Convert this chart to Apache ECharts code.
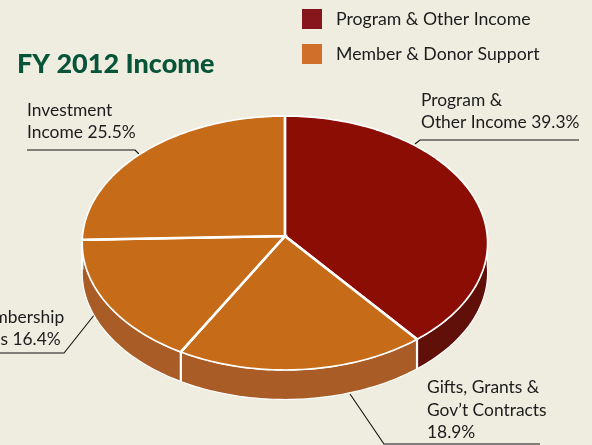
<!DOCTYPE html>
<html>
<head>
<meta charset="utf-8">
<style>html,body{margin:0;padding:0;background:#EFEDE0}#c{width:592px;height:445px}</style>
<script src="https://cdn.jsdelivr.net/npm/echarts@6/dist/echarts.min.js"></script>
</head>
<body>
<div id="c"></div>
<script>
const titleText = 'FY 2012 Income';
const legendNames = ['Program & Other Income', 'Member & Donor Support'];
const legendColors = ['#86161C', '#CF6F29'];
const values = [39.3, 18.9, 16.4, 25.5];
const topColors = ['#8B0D04', '#C66B17', '#C66B17', '#C66B17'];
const wallColors = ['#600F09', '#A95C26', '#A95C26', '#A95C26'];
const labels = ['Program &\nOther Income ', "Gifts, Grants &\nGov\u2019t Contracts\n", 'Membership\nDues ', 'Investment\nIncome '];

const FONT = 'Lato';
const INK = '#1c1c1c';
const total = values.reduce((a, b) => a + b, 0);
let run = 0;
const spans = values.map(v => { const s = [run, run + v]; run += v; return s; });

// Perspective projection of the tilted disc
const HUB_X = 284.9, HUB_Y = 236, A = 202.4, B = 126.6, K = 0.0551, DEPTH = 29.5;
function rim(theta) {
  const u = Math.sin(theta), v = Math.cos(theta), w = 1 + K * v;
  return [HUB_X + A * u / w, HUB_Y - B * v / w];
}
const toAngle = p => p / total * Math.PI * 2;
function arc(a, b) {
  const n = Math.max(2, Math.ceil((b - a) / 0.02)), pts = [];
  for (let i = 0; i <= n; i++) pts.push(rim(a + (b - a) * i / n));
  return pts;
}
function renderTop(params, api) {
  const a = toAngle(api.value(0)), b = toAngle(api.value(1));
  const pts = arc(a, b);
  const hub = [HUB_X, HUB_Y];
  return {
    type: 'group',
    children: [
      { type: 'polygon', shape: { points: [hub].concat(pts) },
        style: { fill: topColors[params.dataIndex], stroke: '#fff', lineWidth: 1.7 } },
      { type: 'polyline', shape: { points: [pts[0], hub, pts[pts.length - 1]] },
        style: { fill: null, stroke: '#fff', lineWidth: 2.6, lineCap: 'butt' } }
    ]
  };
}
function renderWall(params, api) {
  const rawA = toAngle(api.value(0)), rawB = toAngle(api.value(1));
  const a = Math.max(rawA, Math.PI / 2);
  const b = Math.min(rawB, Math.PI * 1.5);
  if (b <= a) return null;
  const up = arc(a, b);
  const down = up.map(p => [p[0], p[1] + DEPTH]).reverse();
  const children = [{
    type: 'polygon',
    shape: { points: up.concat(down) },
    style: { fill: wallColors[params.dataIndex], stroke: '#fff', lineWidth: 1.2 }
  }];
  if (rawA === a) {
    children.push({
      type: 'polyline',
      shape: { points: [up[0], [up[0][0], up[0][1] + DEPTH]] },
      style: { stroke: '#fff', lineWidth: 2.2, fill: null }
    });
  }
  return { type: 'group', children };
}

const textEl = (x, y, text) => ({
  type: 'text', x, y, silent: true,
  style: { text, fill: INK, font: '17.4px ' + FONT, lineHeight: 22.4, textAlign: 'left', textVerticalAlign: 'top' }
});
const lineEl = pts => ({
  type: 'polyline', silent: true,
  shape: { points: pts },
  style: { stroke: '#111', lineWidth: 1.1, fill: null }
});

const chart = echarts.init(document.getElementById('c'), null, { renderer: 'canvas' });
chart.setOption({
  animation: false,
  backgroundColor: '#EFEDE0',
  title: {
    text: titleText, left: 12, top: 46,
    textStyle: { fontFamily: FONT, fontWeight: 900, fontSize: 27, color: '#075438' }
  },
  legend: {
    orient: 'vertical', left: 297, top: 4, itemWidth: 20, itemHeight: 20, itemGap: 15,
    selectedMode: false, icon: 'rect',
    data: legendNames,
    textStyle: { fontFamily: FONT, fontSize: 17.7, color: INK, padding: [0, 0, 0, 9] }
  },
  series: [
    { type: 'custom', coordinateSystem: 'none', name: legendNames[0], data: [], itemStyle: { color: legendColors[0] }, renderItem: () => null },
    { type: 'custom', coordinateSystem: 'none', name: legendNames[1], data: [], itemStyle: { color: legendColors[1] }, renderItem: () => null },
    { type: 'custom', coordinateSystem: 'none', z: 2, silent: true, clip: false, data: spans, renderItem: renderWall },
    { type: 'custom', coordinateSystem: 'none', z: 3, silent: true, clip: false, data: spans, renderItem: renderTop }
  ],
  graphic: [
    textEl(421, 89.2, labels[0] + values[0] + '%'),
    textEl(427, 376.5, labels[1] + values[1] + '%'),
    textEl(-31.5, 306, labels[2] + values[2] + '%'),
    textEl(27, 99.2, labels[3] + values[3] + '%'),
    lineEl([[27, 150], [135, 150], [139, 154]]),
    lineEl([[579, 140], [420, 140], [415, 144]]),
    lineEl([[0, 353], [64, 353], [95, 314]]),
    lineEl([[350, 394], [384, 444], [540, 444]])
  ]
});
</script>
</body>
</html>
